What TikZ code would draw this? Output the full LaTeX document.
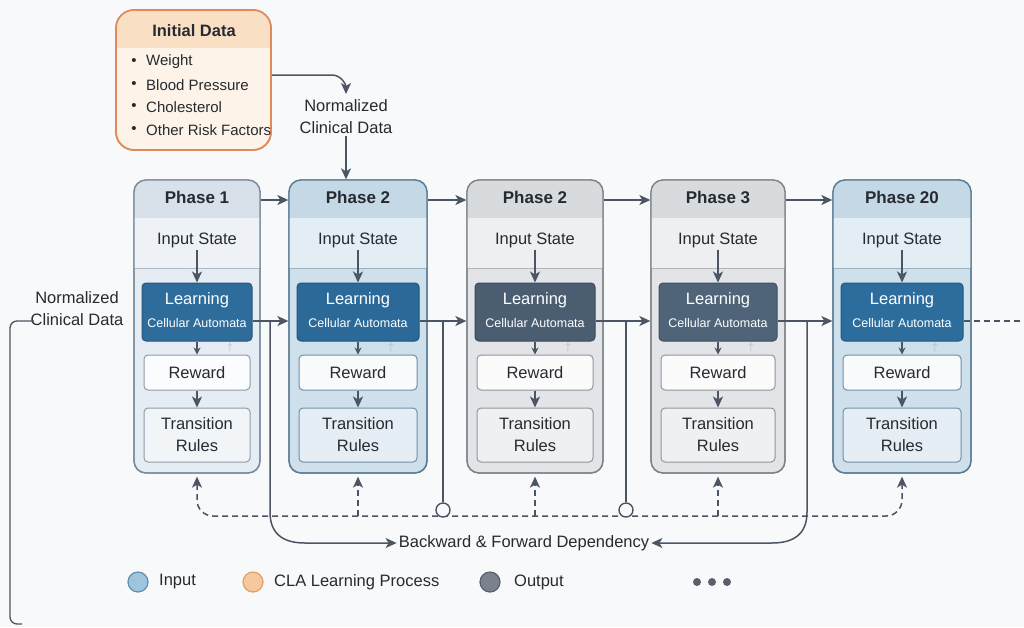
\documentclass[tikz,border=0pt]{standalone}
\usepackage{fontspec}
\setmainfont{Liberation Sans}
\usetikzlibrary{arrows.meta,calc}
\definecolor{lc}{HTML}{4B5563}
\definecolor{tc}{HTML}{262B31}
\definecolor{bg}{HTML}{F8F9FA}
\definecolor{aBd}{HTML}{7A8A9B}\definecolor{aHd}{HTML}{D8E0E9}\definecolor{aIn}{HTML}{EEF2F7}\definecolor{aBo}{HTML}{E6ECF3}\definecolor{aLe}{HTML}{2E6C9B}
\definecolor{bBd}{HTML}{5C7B93}\definecolor{bHd}{HTML}{C4D8E5}\definecolor{bIn}{HTML}{E2EDF4}\definecolor{bBo}{HTML}{CDE0EB}\definecolor{bLe}{HTML}{2B6998}
\definecolor{gBd}{HTML}{7C838A}\definecolor{gHd}{HTML}{D8DBDE}\definecolor{gIn}{HTML}{EEEFF1}\definecolor{gBo}{HTML}{E2E4E7}
\definecolor{cLe}{HTML}{4A5D71}\definecolor{dLe}{HTML}{4F6478}\definecolor{eLe}{HTML}{2D6D9E}
\definecolor{oBd}{HTML}{E0895A}\definecolor{oHd}{HTML}{F9E0C5}\definecolor{oBo}{HTML}{FDF3E8}
\definecolor{lgIn}{HTML}{9FC5DE}\definecolor{lgInD}{HTML}{5E8FB0}
\definecolor{lgOr}{HTML}{F5C89D}\definecolor{lgOrD}{HTML}{E0A06C}
\definecolor{lgOu}{HTML}{7A838D}\definecolor{lgOuD}{HTML}{58616B}
\tikzset{
 tip/.tip={Stealth[length=11pt,width=10pt,inset=3pt]},
 ln/.style={draw=lc, line width=1.5pt},
 arr/.style={ln, -tip},
 dashl/.style={ln, dash pattern=on 6pt off 4pt},
 pbox/.style={rectangle, rounded corners=12pt, minimum height=293pt, line width=1.3pt},
 txt/.style={text=tc, font=\fontsize{16.5}{22}\selectfont, inner sep=2pt},
 ttl/.style={text=tc, font=\bfseries\fontsize{17}{20}\selectfont, inner sep=2pt},
 ibox/.style={rectangle, rounded corners=4pt, line width=1pt},
 lgdot/.style={circle, minimum size=20pt, inner sep=0pt, line width=1.2pt},
}
\newcommand\phasebox[9]{%
 \pgfmathsetmacro\phxl{#2-#3/2}\pgfmathsetmacro\phxr{#2+#3/2}%
 \pgfmathsetmacro\phlw{#3-16}\pgfmathsetmacro\phrw{#3-20}%
 \node[pbox, fill=#8, draw=#5, minimum width=#3pt] (#1) at (#2,326.5) {};
 \begin{scope}
  \clip[rounded corners=12pt] (\phxl,180) rectangle (\phxr,473);
  \fill[#6] (\phxl,180) rectangle (\phxr,218);
  \fill[#7] (\phxl,218) rectangle (\phxr,268);
 \end{scope}
 \draw[#5!60!white, line width=1pt] (\phxl,268) -- (\phxr,268);
 \draw[#5, line width=1.3pt, rounded corners=12pt] (\phxl,180) rectangle (\phxr,473);
 \node[ttl] (#1t) at (#2,197) {#4};
 \node[txt] (#1i) at (#2,240) {Input State};
 \node[ibox, fill=#9, draw=#9!80!black, minimum width=\phlw pt, minimum height=58pt] (#1l) at (#2,312) {};
 \node[text=white, font=\fontsize{16.5}{19}\selectfont, inner sep=1pt] (#1la) at (#2,300) {Learning};
 \node[text=white, font=\fontsize{12.5}{15}\selectfont, inner sep=1pt] (#1lb) at (#2,323) {Cellular Automata};
 \node[text=#5!45!white, font=\fontsize{12}{12}\selectfont, inner sep=0pt] (#1d) at (#2+33,348) {†};
 \node[ibox, txt, fill=white!85!#8, draw=#5!85!white, minimum width=\phrw pt, minimum height=35pt] (#1r) at (#2,372.5) {Reward};
 \node[ibox, txt, align=center, fill=#8!55!white, draw=#5!85!white, minimum width=\phrw pt, minimum height=54pt] (#1x) at (#2,435) {Transition\\Rules};
 \draw[arr] (#1i.south) -- (#1l.north);
 \draw[ln, -{Stealth[length=7pt,width=7pt]}] (#1l.south) -- (#1r.north);
 \draw[arr] (#1r.south) -- (#1x.north);
}
\begin{document}
\begin{tikzpicture}[x=1pt,y=-1pt]
\useasboundingbox (0,0) rectangle (1024,627);
\fill[bg] (0,0) rectangle (1024,627);

% Initial data
\node[rectangle, rounded corners=18pt, minimum width=155pt, minimum height=140pt, fill=oBo, draw=oBd, line width=1.6pt] (init) at (193.5,80) {};
\begin{scope}
 \clip[rounded corners=18pt] (116,10) rectangle (271,150);
 \fill[oHd] (116,10) rectangle (271,48);
\end{scope}
\draw[oBd, line width=1.6pt, rounded corners=18pt] (116,10) rectangle (271,150);
\node[ttl, font=\bfseries\fontsize{16.5}{20}\selectfont] (initt) at (194,31) {Initial Data};
\foreach \yy/\tt/\nm in {62/Weight/a, 85/Blood Pressure/b, 107/Cholesterol/c, 130/Other Risk Factors/d}{
 \node[text=tc, font=\fontsize{15}{16}\selectfont, inner sep=0pt] (bul\nm) at (134,\yy) {•};
 \node[text=tc, font=\fontsize{15}{18}\selectfont, anchor=west, inner sep=0pt] (itm\nm) at (146,\yy) {\tt};
}

% normalized clinical data (top)
\node[txt, align=center] (nc) at (346,117) {Normalized\\Clinical Data};
\draw[arr] ([yshift=5pt]init.east) -- (332,75) to[out=0,in=90] (346,94);

% phases
\phasebox{pa}{197}{126}{Phase 1}{aBd}{aHd}{aIn}{aBo}{aLe}
\phasebox{pb}{358}{138}{Phase 2}{bBd}{bHd}{bIn}{bBo}{bLe}
\phasebox{pc}{535}{136}{Phase 2}{gBd}{gHd}{gIn}{gBo}{cLe}
\phasebox{pd}{718}{134}{Phase 3}{gBd}{gHd}{gIn}{gBo}{dLe}
\phasebox{pe}{902}{138}{Phase 20}{bBd}{bHd}{bIn}{bBo}{eLe}

\draw[arr] (nc.south) -- (nc.south |- pb.north);

% header arrows
\draw[arr] ([yshift=-3pt]pat.east -| pa.east) -- ([yshift=-3pt]pat.east -| pb.west);
\draw[arr] ([yshift=-3pt]pbt.east -| pb.east) -- ([yshift=-3pt]pbt.east -| pc.west);
\draw[arr] ([yshift=-3pt]pct.east -| pc.east) -- ([yshift=-3pt]pct.east -| pd.west);
\draw[arr] ([yshift=-3pt]pdt.east -| pd.east) -- ([yshift=-3pt]pdt.east -| pe.west);

% learning-level arrows
\coordinate (ja) at (270,321);
\coordinate (jb) at (443,321);
\coordinate (jc) at (626,321);
\coordinate (jd) at (807,321);
\coordinate (rend) at (1024,321);
\draw[arr] ([yshift=-9pt]pal.east) -- (ja -| pb.west);
\draw[arr] ([yshift=-9pt]pbl.east) -- (jb -| pc.west);
\draw[arr] ([yshift=-9pt]pcl.east) -- (jc -| pd.west);
\draw[arr] ([yshift=-9pt]pdl.east) -- (jd -| pe.west);
\draw[dashl] ([yshift=-9pt]pel.east) -- (rend);

% dashed feedback line
\coordinate (dl) at (0,516);
\draw[dashl, rounded corners=16pt, tip-tip]
 ([yshift=-3pt]pa.south) -- (pa.south |- dl) -- (pe.south |- dl) -- ([yshift=-3pt]pe.south);
\draw[dashl, -tip] (pb.south |- dl) -- ([yshift=-3pt]pb.south);
\draw[dashl, -tip] (pc.south |- dl) -- ([yshift=-3pt]pc.south);
\draw[dashl, -tip] (pd.south |- dl) -- ([yshift=-3pt]pd.south);

% circles
\node[circle, minimum size=14pt, inner sep=0pt, fill=bg, draw=lc, line width=1.4pt] (cb) at (443,510) {};
\node[circle, minimum size=14pt, inner sep=0pt, fill=bg, draw=lc, line width=1.4pt] (cc) at (626,510) {};
\draw[ln] (jb) -- (cb.north);
\draw[ln] (jc) -- (cc.north);

% dependency
\node[txt] (dep) at (524,543) {Backward \& Forward Dependency};
\draw[arr] (ja) -- (270,512) .. controls (270,533) and (282,543) .. (305,543) -- (dep.west);
\draw[arr] (jd) -- (807,512) .. controls (807,533) and (795,543) .. (772,543) -- (dep.east);

% left normalized data
\node[txt, align=center] (nl) at (77,309) {Normalized\\Clinical Data};
\coordinate (nlk) at (34,321);
\coordinate (nlend) at (22,624);
\draw[ln, line width=1.3pt, rounded corners=7pt] (nlk) -- (10,321) -- (10,624) -- (nlend);

% legend
\node[lgdot, fill=lgIn, draw=lgInD] (lga) at (138,582) {};
\node[txt, anchor=west] (lgat) at (157,582) {Input};
\node[lgdot, fill=lgOr, draw=lgOrD] (lgb) at (253,582) {};
\node[txt, anchor=west] (lgbt) at (272,582) {CLA Learning Process};
\node[lgdot, fill=lgOu, draw=lgOuD] (lgc) at (490,582) {};
\node[txt, anchor=west] (lgct) at (512,582) {Output};
\foreach \xx/\nm in {697/a,712/b,727/c}{
 \node[circle, minimum size=8pt, inner sep=0pt, fill=lgOuD] (dot\nm) at (\xx,582) {};
}
\end{tikzpicture}
\end{document}
